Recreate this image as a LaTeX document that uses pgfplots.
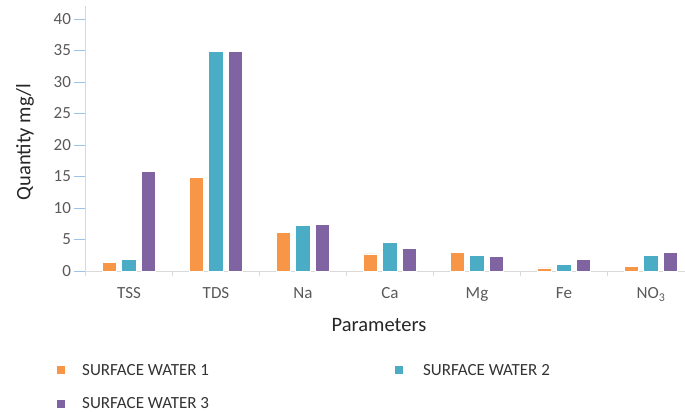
\documentclass[border=0pt]{standalone}
\usepackage{fontspec}
\setmainfont{Carlito}
\usepackage{pgfplots}
\pgfplotsset{compat=1.18}
\definecolor{sw1}{HTML}{F79646}
\definecolor{sw2}{HTML}{4BACC6}
\definecolor{sw3}{HTML}{8064A2}
\definecolor{axgray}{HTML}{D9D9D9}
\definecolor{tickblue}{HTML}{9DC3E6}
\definecolor{lblgray}{HTML}{595959}
\pgfplotsset{sq/.style={legend image code/.code={\fill[##1,draw=none] (0pt,-4pt) rectangle (8pt,4pt);}}}
\begin{document}
\begin{tikzpicture}
\useasboundingbox (-85.5pt,-141pt) rectangle (599.5pt,271pt);
\begin{axis}[
  at={(0pt,0pt)}, anchor=south west,
  scale only axis, width=609pt, height=264.6pt,
  xmin=-0.5, xmax=6.5, ymin=0, ymax=42,
  ybar=5pt, bar width=14.5pt,
  axis x line=bottom, axis y line=left,
  axis line style={draw=axgray, line width=1pt, -},
  ytick={0,5,...,40},
  xtick={0,1,2,3,4,5,6},
  xticklabels={TSS,TDS,Na,Ca,Mg,Fe,NO\textsubscript{3}},
  major x tick style={draw=none},
  minor xtick={-0.5,0.5,...,6.5},
  minor tick length=5pt,
  minor x tick style={draw=axgray, line width=1pt},
  tick align=outside,
  major tick length=11pt,
  ytick style={draw=tickblue, line width=1pt},
  /pgf/number format/assume math mode=true,
  ticklabel style={font=\fontsize{17}{20}\selectfont, text=lblgray},
  xticklabel style={yshift=-2pt},
  xlabel={Parameters},
  ylabel={Quantity mg/l},
  label style={font=\fontsize{20.5}{24}\selectfont, text=black!85},
  xlabel style={at={(axis description cs:0.482,-0.204)}, anchor=center},
  ylabel style={at={(axis description cs:-0.0993,0.4875)}, anchor=center, rotate=0},
  legend columns=2,
  legend cell align=left,
  legend style={at={(axis description cs:-0.0468,-0.344)}, anchor=north west,
    draw=none, fill=none, inner sep=0pt,
    font=\fontsize{17}{20}\selectfont, text=black!80,
    row sep=17pt,
    /tikz/column 1/.style={column sep=15pt},
    /tikz/column 2/.style={column sep=184pt},
    /tikz/column 3/.style={column sep=18pt}},
]
\addplot[sq, fill=sw1, draw=white, line width=0.6pt] coordinates {(0,1.4) (1,14.9) (2,6.1) (3,2.7) (4,2.9) (5,0.48) (6,0.7)};
\addplot[sq, fill=sw2, draw=white, line width=0.6pt] coordinates {(0,1.85) (1,34.9) (2,7.25) (3,4.55) (4,2.5) (5,1.1) (6,2.5)};
\addplot[sq, fill=sw3, draw=white, line width=0.6pt] coordinates {(0,15.8) (1,34.9) (2,7.45) (3,3.6) (4,2.27) (5,1.85) (6,2.97)};
\legend{SURFACE WATER 1, SURFACE WATER 2, SURFACE WATER 3}
\end{axis}
\end{tikzpicture}
\end{document}
